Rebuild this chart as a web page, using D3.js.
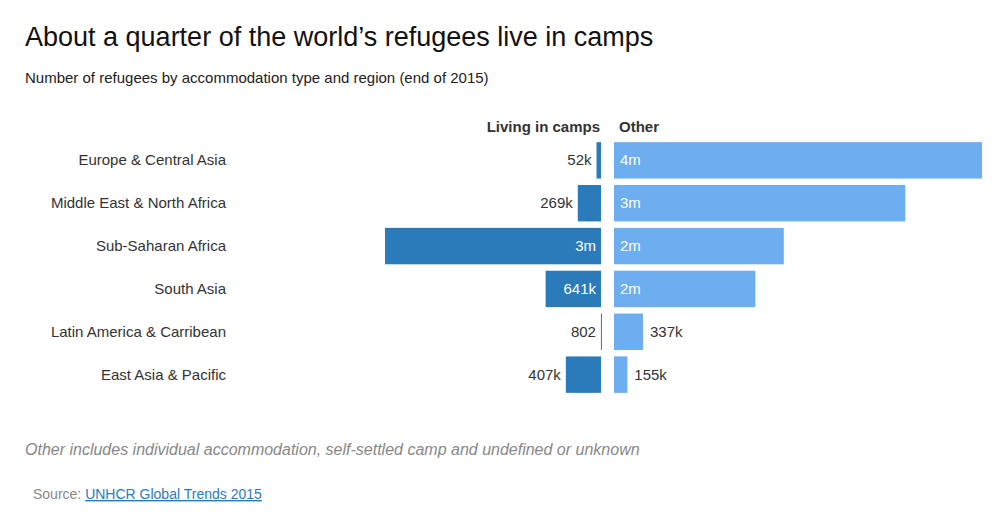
<!DOCTYPE html>
<html><head><meta charset="utf-8">
<script src="https://cdn.jsdelivr.net/npm/d3@7"></script>
<style>body{margin:0;background:#fff;font-family:"Liberation Sans",Arial,sans-serif;}</style>
</head><body><svg id="c" width="992" height="516"></svg>
<script>
const regions=["Europe & Central Asia","Middle East & North Africa","Sub-Saharan Africa","South Asia","Latin America & Carribean","East Asia & Pacific"];
const camps=[52000,269000,2500000,641000,802,407000];
const campLabels=["52k","269k","3m","641k","802","407k"];
const other=[4270000,3380000,1970000,1640000,337000,155000];
const otherLabels=["4m","3m","2m","2m","337k","155k"];

const svg=d3.select("#c");
svg.append("text").attr("x",25).attr("y",46).attr("font-size",27).attr("fill","#111").text("About a quarter of the world’s refugees live in camps");
svg.append("text").attr("x",25).attr("y",83).attr("font-size",15).attr("fill","#222").text("Number of refugees by accommodation type and region (end of 2015)");
svg.append("text").attr("x",600).attr("y",132).attr("font-size",15).attr("font-weight","bold").attr("fill","#333").attr("text-anchor","end").text("Living in camps");
svg.append("text").attr("x",619).attr("y",132).attr("font-size",15).attr("font-weight","bold").attr("fill","#333").text("Other");

const y=d3.scaleBand().domain(regions).range([140,395]).paddingInner(0.15).paddingOuter(0.05);
const xl=d3.scaleLinear().domain([0,2500000]).range([601,385]);
const xr=d3.scaleLinear().domain([0,4270000]).range([614,982]);
const dark="#2b7bba",light="#6caef0";
regions.forEach((r,i)=>{
  const yc=y(r)+y.bandwidth()/2;
  svg.append("text").attr("x",226).attr("y",yc+5).attr("text-anchor","end").attr("font-size",15).attr("fill","#333").text(r);
  const lx=xl(camps[i]);
  svg.append("rect").attr("x",lx).attr("y",y(r)).attr("width",Math.max(601-lx,1)).attr("height",y.bandwidth()).attr("fill",dark);
  const inL=(601-lx)>50;
  svg.append("text").attr("x",inL?596:lx-5).attr("y",yc+5).attr("text-anchor","end").attr("font-size",15)
    .attr("fill",inL?"#fff":"#333").text(campLabels[i]);
  const rx=xr(other[i]);
  svg.append("rect").attr("x",614).attr("y",y(r)).attr("width",rx-614).attr("height",y.bandwidth()).attr("fill",light);
  const inR=(rx-614)>50;
  svg.append("text").attr("x",inR?620:rx+7).attr("y",yc+5).attr("font-size",15)
    .attr("fill",inR?"#fff":"#333").text(otherLabels[i]);
});
svg.append("text").attr("x",25).attr("y",455).attr("font-size",16).attr("font-style","italic").attr("fill","#888").text("Other includes individual accommodation, self-settled camp and undefined or unknown");
const s=svg.append("text").attr("x",33).attr("y",499).attr("font-size",14).attr("fill","#888");
s.append("tspan").text("Source: ");
s.append("tspan").attr("fill","#2b7bba").attr("text-decoration","underline").text("UNHCR Global Trends 2015");
</script></body></html>
